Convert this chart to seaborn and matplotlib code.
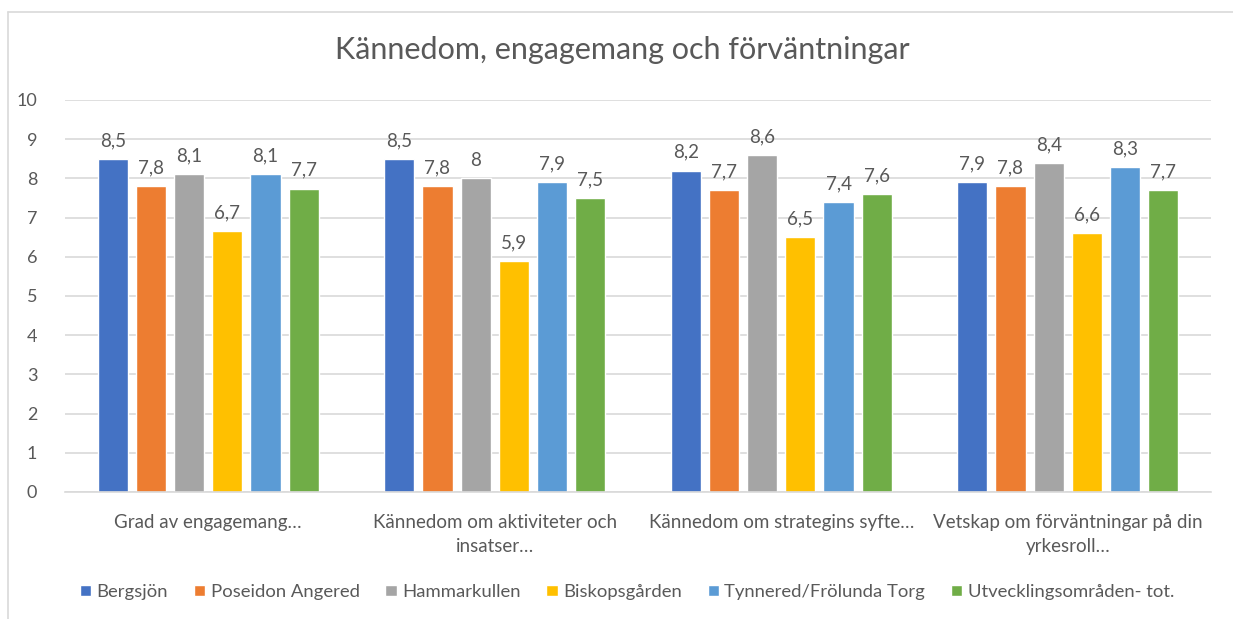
import matplotlib
matplotlib.use("Agg")
import matplotlib.pyplot as plt
from matplotlib.lines import Line2D
import seaborn as sns
import pandas as pd

categories = [
    "Grad av engagemang…",
    "Kännedom om aktiviteter och\ninsatser…",
    "Kännedom om strategins syfte…",
    "Vetskap om förväntningar på din\nyrkesroll…",
]
series = ["Bergsjön", "Poseidon Angered", "Hammarkullen", "Biskopsgården",
          "Tynnered/Frölunda Torg", "Utvecklingsområden- tot."]
bergsjon = [8.5, 8.5, 8.2, 7.9]
poseidon = [7.8, 7.8, 7.7, 7.8]
hammarkullen = [8.1, 8.0, 8.6, 8.4]
biskopsgarden = [6.66, 5.9, 6.5, 6.6]
tynnered = [8.1, 7.9, 7.4, 8.3]
totalt = [7.74, 7.5, 7.6, 7.7]
colors = ["#4472C4", "#ED7D31", "#A5A5A5", "#FFC000", "#5B9BD5", "#70AD47"]
title = "Kännedom, engagemang och förväntningar"

values = [bergsjon, poseidon, hammarkullen, biskopsgarden, tynnered, totalt]
rows = []
for s, vals in zip(series, values):
    for c, v in zip(categories, vals):
        rows.append({"Kategori": c, "Område": s, "Värde": v})
df = pd.DataFrame(rows)

sns.set_theme(style="white")
plt.rcParams["font.family"] = ["Lato", "DejaVu Sans"]
txt = "#595959"

fig = plt.figure(figsize=(12.33, 6.19), dpi=100)
ax = fig.add_axes([65/1233, 1-492/619, (1211-65)/1233, (492-100)/619])

sns.barplot(data=df, x="Kategori", y="Värde", hue="Område", order=categories,
            hue_order=series, palette=colors, width=0.8, gap=0.21,
            saturation=1, ax=ax, legend=True)

def fmt(v):
    r = round(v, 1)
    if abs(r - round(r)) < 1e-9:
        return str(int(round(r)))
    return f"{r:.1f}".replace(".", ",")

for cont, vals in zip(ax.containers, values):
    ax.bar_label(cont, labels=[fmt(v) for v in vals], padding=7,
                 fontsize=13.5, color=txt)

ax.set_ylim(0, 10)
ax.set_yticks(range(0, 11))
ax.set_xlim(-0.5, 3.5)
ax.yaxis.grid(True, color="#D9D9D9", linewidth=1.2)
ax.set_axisbelow(True)
for sp in ["top", "right", "left"]:
    ax.spines[sp].set_visible(False)
ax.spines["bottom"].set_color("#D9D9D9")
ax.spines["bottom"].set_linewidth(1.2)
ax.tick_params(axis="y", length=0, pad=20, labelsize=13, labelcolor=txt)
ax.tick_params(axis="x", length=0, pad=16, labelsize=13.5, labelcolor=txt)
for t in ax.get_xticklabels():
    t.set_linespacing(1.45)
    t.set_multialignment("center")
ax.set_xlabel("")
ax.set_ylabel("")

fig.text(622/1233, 1-50/619, title, ha="center", va="center",
         fontsize=22, color=txt)

handles, labels = ax.get_legend_handles_labels()
ax.legend(handles, labels, loc="center", bbox_to_anchor=(627/1233, 1-592/619),
          bbox_transform=fig.transFigure, ncol=6, frameon=False,
          fontsize=13.3, labelcolor=txt, handlelength=0.6, handleheight=0.6,
          handletextpad=0.3, columnspacing=1.4)

fig.add_artist(Line2D([8/1233, 1], [1-12/619, 1-12/619], color="#D9D9D9",
                      linewidth=1.2, transform=fig.transFigure))
fig.add_artist(Line2D([8/1233, 8/1233], [0, 1-12/619], color="#D9D9D9",
                      linewidth=1.2, transform=fig.transFigure))

fig.savefig("out.png", dpi=100, facecolor="white")
